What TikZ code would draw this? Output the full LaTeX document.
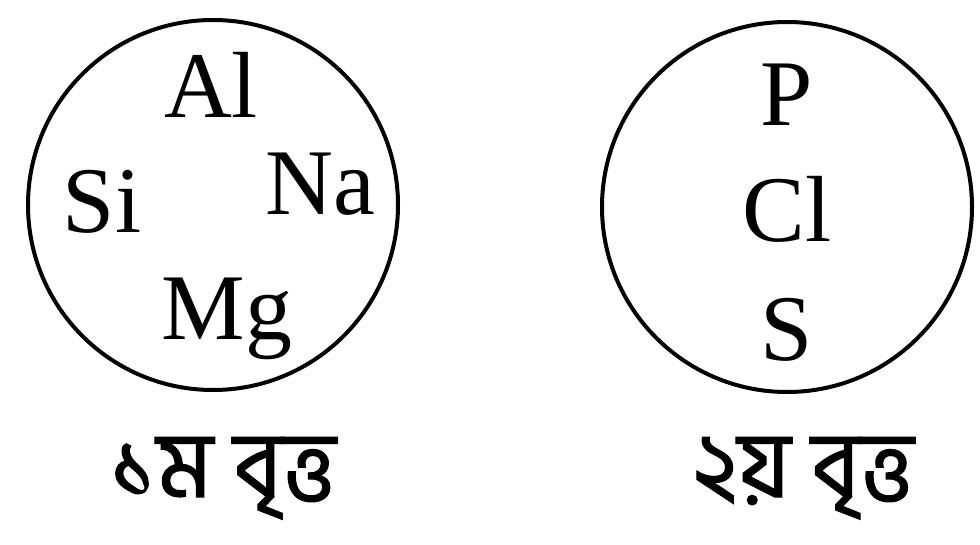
\documentclass[tikz,border=0pt]{standalone}
\usepackage{fontspec}
\setmainfont{Liberation Serif}
\newfontfamily\bnfont[Script=Bengali,FakeBold=1.2]{Hind Siliguri}
\usetikzlibrary{calc}

\begin{document}
\begin{tikzpicture}[x=1pt,y=-1pt,
                    ring/.style={draw,circle,line width=4pt,minimum size=370pt,inner sep=0pt},
                    elem/.style={anchor=base,inner sep=0pt,font=\fontsize{94}{94}\selectfont},
                    tag/.style={anchor=base,inner sep=0pt,font=\bnfont\fontsize{93}{93}\selectfont}
]
\useasboundingbox (0,0) rectangle (980,545);

% Draw the two circles
\node [ring] at (213,205) (ring1) {};
\node [ring] at (787,207) (ring2) {};

% Elements of the first circle
\node [elem] at ($(ring1.center)+(-2,-87)$) (al) {Al};
\node [elem] at ($(ring1.center)+(-111,28)$) (si) {Si};
\node [elem] at ($(ring1.center)+(107,10)$) (na) {Na};
\node [elem] at ($(ring1.center)+(14,135)$) (mg) {Mg};

% Elements of the second circle
\node [elem] at ($(ring2.center)+(0,-81)$) (p) {P};
\node [elem] at ($(ring2.center)+(0,35)$) (cl) {Cl};
\node [elem] at ($(ring2.center)+(0,153)$) (s) {S};

% Names under the circles
\node [tag] at ($(ring1.south)+(10,105)$) (name1) {১ম বৃত্ত};
\node [tag] at ($(ring2.south)+(16,103)$) (name2) {২য় বৃত্ত};

\end{tikzpicture}
\end{document}
